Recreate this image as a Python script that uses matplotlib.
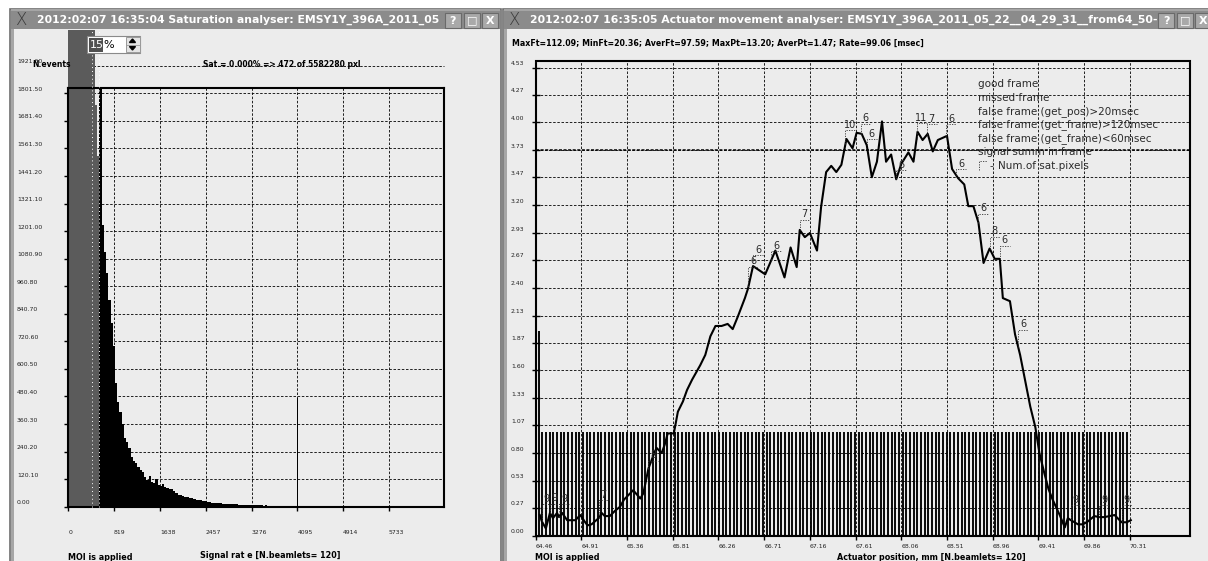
import numpy as np
import matplotlib
matplotlib.use("Agg")
import matplotlib.pyplot as plt
from matplotlib import font_manager, transforms
from matplotlib.patches import Rectangle, Polygon

W, H, DPI = 1208, 561, 100

# ---------------- saturation analyser data ----------------
hist_start = 555          # first non-saturated bin edge
hist_width = 40
hist_counts = [1950, 1230, 1110, 1020, 900, 800, 700, 540, 455, 412,
               360, 300, 282, 258, 218, 200, 190, 172, 158, 150,
               128, 116, 132, 108, 104, 122, 96, 92, 100, 84,
               80, 76, 78, 68, 60, 53, 50, 47, 44, 42,
               38, 36, 33, 31, 30, 28, 25, 26, 22, 20,
               17, 16, 15, 15, 14, 13, 12, 12, 11, 12,
               10, 10, 9, 9, 8, 9, 7, 8, 7, 6,
               7, 6, 6, 5, 6, 5, 5, 4, 5, 4,
               4, 3, 4, 3, 3, 3, 2, 2]
sat_edges = [0, 470, 520, 555]
sat_counts = [2300, 1750, 1530]
peak_x = 4095
peak_count = 472
sat_xmax, sat_ymax = 6723, 1825
sat_xticks = [0, 819, 1638, 2457, 3276, 4095, 4914, 5733]
sat_yticks = [0.00, 120.10, 240.20, 360.30, 480.40, 600.50, 720.60, 840.70,
              960.80, 1080.90, 1201.00, 1321.10, 1441.20, 1561.30, 1681.40,
              1801.50, 1921.60]

# ---------------- actuator movement data ----------------
pos_mm = [64.50, 64.52, 64.56, 64.60, 64.63, 64.67, 64.69, 64.72, 64.77, 64.81,
          64.85, 64.90, 64.94, 64.97, 65.01, 65.08, 65.11, 65.14, 65.19, 65.24,
          65.29, 65.33, 65.42, 65.49, 65.52, 65.57, 65.62, 65.65, 65.70, 65.73,
          65.76, 65.82, 65.86, 65.91, 65.95, 66.00, 66.08, 66.13, 66.18, 66.23,
          66.29, 66.35, 66.40, 66.45, 66.52, 66.55, 66.60, 66.72, 66.82, 66.91,
          66.97, 67.03, 67.06, 67.11, 67.16, 67.23, 67.27, 67.32, 67.37, 67.42,
          67.47, 67.52, 67.58, 67.62, 67.67, 67.72, 67.77, 67.82, 67.87, 67.91,
          67.96, 68.01, 68.06, 68.13, 68.18, 68.22, 68.27, 68.32, 68.37, 68.42,
          68.51, 68.56, 68.62, 68.68, 68.72, 68.77, 68.82, 68.87, 68.93, 68.98,
          69.03, 69.06, 69.13, 69.18, 69.23, 69.28, 69.33, 69.38, 69.42, 69.47,
          69.51, 69.55, 69.62, 69.67, 69.70, 69.73, 69.80, 69.85, 69.90, 69.96,
          70.01, 70.06, 70.11, 70.16, 70.19, 70.23, 70.28, 70.32]
signal = [0.20, 0.14, 0.07, 0.22, 0.17, 0.22, 0.18, 0.22, 0.15, 0.15,
          0.15, 0.20, 0.14, 0.10, 0.11, 0.17, 0.22, 0.19, 0.19, 0.24,
          0.28, 0.35, 0.44, 0.36, 0.41, 0.65, 0.78, 0.85, 0.80, 0.88,
          0.99, 0.99, 1.20, 1.30, 1.41, 1.51, 1.65, 1.75, 1.93, 2.03,
          2.03, 2.05, 2.00, 2.12, 2.30, 2.39, 2.61, 2.53, 2.76, 2.50,
          2.79, 2.60, 2.96, 2.89, 2.93, 2.76, 3.18, 3.52, 3.58, 3.52,
          3.59, 3.84, 3.75, 3.90, 3.89, 3.78, 3.47, 3.62, 4.01, 3.62,
          3.69, 3.45, 3.60, 3.71, 3.62, 3.91, 3.83, 3.89, 3.72, 3.83,
          3.87, 3.55, 3.46, 3.40, 3.19, 3.19, 3.03, 2.64, 2.78, 2.68,
          2.68, 2.30, 2.27, 1.95, 1.75, 1.50, 1.25, 1.05, 0.80, 0.60,
          0.45, 0.35, 0.20, 0.08, 0.17, 0.15, 0.11, 0.11, 0.14, 0.19,
          0.18, 0.18, 0.19, 0.20, 0.17, 0.13, 0.13, 0.15]
frame_start, frame_step, n_frames = 64.49, 0.0362, 161
frame_height = 1.0
first_frame_height = 1.98
level = 3.73
act_xmin, act_xmax = 64.46, 70.90
act_ymax = 4.595
act_xticks = [64.46, 64.91, 65.36, 65.81, 66.26, 66.71, 67.16, 67.61, 68.06,
              68.51, 68.96, 69.41, 69.86, 70.31]
act_yticks = [0.00, 0.27, 0.53, 0.80, 1.07, 1.33, 1.60, 1.87, 2.13, 2.40,
              2.67, 2.93, 3.20, 3.47, 3.73, 4.00, 4.27, 4.53]
# saturated pixel counts marked on the curve: position, count, lift (px)
pix_pos = [64.52, 64.60, 64.69, 65.08, 65.57, 66.55, 66.60, 66.78, 67.06, 67.51,
           67.66, 67.72, 68.01, 68.21, 68.31, 68.50, 68.60, 68.82, 68.93, 69.03,
           69.21, 69.73, 70.01, 70.23]
pix_n = [9, 9, 9, 7, 8, 6, 6, 6, 7, 10, 6, 6, 6, 11, 7, 6, 6, 6, 8, 6, 6, 9, 9, 9]
pix_lift = [17, 9, 13, 18, 8, 22, 11, 9, 10, 14, 10, 6, 9, 16, 11, 12, 6, 9, 12, 13,
            17, 15, 12, 17]

legend_lines = ["good frame", "missed frame", "false frame (get_pos)>20msec",
                "false frame (get_frame)>120msec", "false frame (get_frame)<60msec",
                "signal summ in frame"]
left_title = "2012:02:07 16:35:04 Saturation analyser: EMSY1Y_396A_2011_05"
right_title = ("2012:02:07 16:35:05 Actuator movement analyser: "
               "EMSY1Y_396A_2011_05_22__04_29_31__from64_50-")
stats_text = ("MaxFt=112.09; MinFt=20.36; AverFt=97.59; MaxPt=13.20; "
              "AverPt=1.47; Rate=99.06 [msec]")


def has_font(name):
    try:
        font_manager.findfont(name, fallback_to_default=False)
        return True
    except ValueError:
        return False


NARROW = 'Liberation Sans Narrow' if has_font('Liberation Sans Narrow') else 'DejaVu Sans'
NSCALE = 1.0 if NARROW != 'DejaVu Sans' else 0.82

fig = plt.figure(figsize=(W / DPI, H / DPI), dpi=DPI)
fig.patch.set_facecolor('white')


def overlay(z):
    a = fig.add_axes([0, 0, 1, 1], zorder=z)
    a.set_xlim(0, W)
    a.set_ylim(H, 0)
    a.axis('off')
    a.patch.set_alpha(0)
    return a


bg = overlay(0)
fg = overlay(3)

# window bodies
for x0, x1 in [(10, 501), (503, W + 3)]:
    bg.add_patch(Rectangle((x0, 9), x1 - x0, H, facecolor='#ececec',
                           edgecolor='#6e6e6e', lw=1.2))
    bg.add_patch(Rectangle((x0 + 1, 29), 3, H, facecolor='#a6a6a6', lw=0))


def frame_axes(rect):
    l, t, r, b = rect
    ax = fig.add_axes([l / W, 1 - b / H, (r - l) / W, (b - t) / H], zorder=1)
    ax.patch.set_alpha(0)
    for sp in ax.spines.values():
        sp.set_linestyle((0, (2, 1)))
        sp.set_linewidth(1.5)
    ax.grid(True, color='black', linestyle=(0, (3, 2)), linewidth=0.6)
    ax.set_axisbelow(True)
    ax.tick_params(labelleft=False, labelbottom=False, colors='black')
    return ax


# ---------------- left: saturation histogram ----------------
ax1 = frame_axes((68.3, 88, 444.3, 506.7))
ax1.set_xticks(sat_xticks)
ax1.set_yticks(sat_yticks[:-1])
ax1.set_xlim(0, sat_xmax)
ax1.set_ylim(0, sat_ymax)
ax1.tick_params(axis='both', direction='out', length=3, width=1)

content_clip = Rectangle((13, 30), 487, H, transform=bg.transData)
gray = ax1.bar(sat_edges[:-1], sat_counts, width=np.diff(sat_edges), align='edge',
               color='#5b5b5b', lw=0, clip_on=False, zorder=2)
for p in gray:
    p.set_clip_on(True)
    p.set_clip_path(content_clip)
edges = hist_start + hist_width * np.arange(len(hist_counts))
ax1.bar(edges, hist_counts, width=hist_width, align='edge', color='black', lw=0, zorder=2)
ax1.bar(peak_x, peak_count, width=28, color='black', lw=0, zorder=2)
ax1.axhline(sat_yticks[-1], color='black', linestyle=(0, (3, 2)), linewidth=0.6,
            clip_on=False, zorder=1)
for xv in (425, sat_edges[-1] - 6):
    ln, = ax1.plot([xv, xv], [0, sat_counts[0]], color='white', lw=0.7,
                   linestyle=(0, (1, 3)), clip_on=False, zorder=3)
    ln.set_clip_on(True)
    ln.set_clip_path(content_clip)

# ---------------- right: actuator movement ----------------
ax2 = frame_axes((535.7, 61, 1189.7, 535.7))
ax2.set_xticks(act_xticks)
ax2.set_yticks(act_yticks)
ax2.set_xlim(act_xmin, act_xmax)
ax2.set_ylim(0, act_ymax)
ax2.tick_params(axis='y', direction='inout', length=6, width=1)
ax2.tick_params(axis='x', direction='out', length=3, width=1)

frame_pos = frame_start + frame_step * np.arange(n_frames)
heights = np.full(n_frames, frame_height)
heights[0] = first_frame_height
ax2.vlines(frame_pos, 0, heights, color='black', lw=1.35, zorder=2)
ax2.plot([frame_pos[0], frame_pos[-1]], [0, 0], color='black', lw=1.5, zorder=2)
ax2.axhline(level, color='black', lw=1.1, linestyle=(0, (2, 1)), zorder=1)
ax2.plot(pos_mm, signal, color='black', lw=1.5, zorder=3)


def shifted(ax, x, y, dx, dy):
    X, Y = ax.transData.transform((x, y))
    return ax.transData.inverted().transform((X + dx, Y + dy))


for p, n, lift in zip(pix_pos, pix_n, pix_lift):
    y0 = np.interp(p, pos_mm, signal)
    top = shifted(ax2, p, y0, 0, lift)
    right = shifted(ax2, p, y0, 10, lift)
    ax2.plot([p, top[0], right[0]], [y0, top[1], right[1]], color='#333333',
             lw=0.6, linestyle=(0, (1.5, 1.5)), zorder=4)
    mid = shifted(ax2, p, y0, 5, lift + 0.5)
    ax2.text(mid[0], mid[1], str(n), ha='center', va='bottom', fontsize=7,
             color='#2a2a2a', zorder=5)

# ---------------- tick labels ----------------
tick_kw = dict(fontsize=4.4, color='#222222', va='center')


def ylabels(ax, xpix, ticks, fmt):
    tr = transforms.blended_transform_factory(fg.transData, ax.transData)
    tr = transforms.offset_copy(tr, fig=fig, y=4, units='dots')
    for v in ticks:
        fg.text(xpix, v, fmt % v, transform=tr, ha='left', **tick_kw)


def xlabels(ax, ypix, ticks, fmt):
    tr = transforms.blended_transform_factory(ax.transData, fg.transData)
    for v in ticks:
        fg.text(v, ypix, fmt % v, transform=tr, ha='left', **tick_kw)


ylabels(ax1, 17, sat_yticks, '%.2f')
xlabels(ax1, 533, sat_xticks, '%d')
ylabels(ax2, 511, act_yticks, '%.2f')
xlabels(ax2, 547, act_xticks, '%.2f')

# ---------------- texts ----------------
bold_n = dict(family=NARROW, fontweight='bold', color='black')
fg.text(32, 64, "N.events", fontsize=6.0 * NSCALE / 0.9, va='center', **bold_n)
fg.text(282, 64, "Sat.= 0.000% => 472 of 5582280 pxl", fontsize=6.0 * NSCALE / 0.9,
        ha='center', va='center', **bold_n)
fg.text(68, 557, "MOI is applied", fontsize=6.3 * NSCALE / 0.9, va='center', **bold_n)
fg.text(270, 556, "Signal rat e [N.beamlets= 120]", fontsize=6.3 * NSCALE / 0.9,
        ha='center', va='center', **bold_n)
fg.text(535, 557, "MOI is applied", fontsize=6.3 * NSCALE / 0.9, va='center', **bold_n)
fg.text(931, 557, "Actuator position, mm [N.beamlets= 120]", fontsize=6.3 * NSCALE / 0.9,
        ha='center', va='center', **bold_n)
fg.text(512, 43, stats_text, fontsize=6.2 * NSCALE / 0.9, va='center', **bold_n)

for i, line in enumerate(legend_lines):
    fg.text(978, 84 + 13.6 * i, line, fontsize=7.5, color='#2b2b2b', va='center')
ly = 84 + 13.6 * len(legend_lines)
fg.plot([979, 979, 987], [170, 161, 161], color='#333333', lw=0.6,
        linestyle=(0, (1.5, 1.5)))
fg.text(989, ly, "-", fontsize=7.5, color='#2b2b2b', va='center')
fg.text(998, ly, "Num.of sat.pixels", fontsize=7.5, color='#2b2b2b', va='center')

# spin box "15%"
fg.add_patch(Rectangle((87, 36), 53, 17, facecolor='white', edgecolor='#8a8a8a', lw=0.8))
fg.add_patch(Rectangle((88.5, 37.5), 14.5, 14, facecolor='#505050', lw=0))
fg.text(89.5, 45, "15", color='white', fontsize=8, va='center')
fg.text(103, 45, "%", color='black', fontsize=8, va='center')
fg.add_patch(Rectangle((126, 37), 13.5, 15, facecolor='#e4e4e4', edgecolor='#9a9a9a', lw=0.7))
fg.plot([126, 139.5], [44.5, 44.5], color='#9a9a9a', lw=0.6)
fg.add_patch(Polygon([[129.5, 42.5], [135.5, 42.5], [132.5, 39]], color='black'))
fg.add_patch(Polygon([[129.5, 46.5], [135.5, 46.5], [132.5, 50]], color='black'))

# title bars
for x0, x1, title, buttons in [(11, 500, left_title, (445, 464, 482)),
                               (504, W, right_title, (1158, 1177, 1195))]:
    fg.add_patch(Rectangle((x0, 9), x1 - x0, 20, facecolor='#8b8b8b', lw=0))
    fg.add_patch(Rectangle((x0, 9), x1 - x0, 1.5, facecolor='#a5a5a5', lw=0))
    fg.text(x0 + 4, 20, "X", fontsize=12, color='#3a3a3a', va='center',
            family='DejaVu Sans', fontweight='light')
    fg.text(x0 + 26, 19.5, title, fontsize=7.8, color='white', fontweight='bold',
            va='center')
    for bx, sym in zip(buttons, ["?", "\u25a1", "X"]):
        fg.add_patch(Rectangle((bx, 12.5), 16, 15.5, facecolor='#a9a9a9',
                               edgecolor='#6a6a6a', lw=0.8))
        fg.text(bx + 8, 20.5, sym, fontsize=8, color='white', fontweight='bold',
                ha='center', va='center')

fig.savefig("out.png", dpi=DPI, facecolor=fig.get_facecolor())
